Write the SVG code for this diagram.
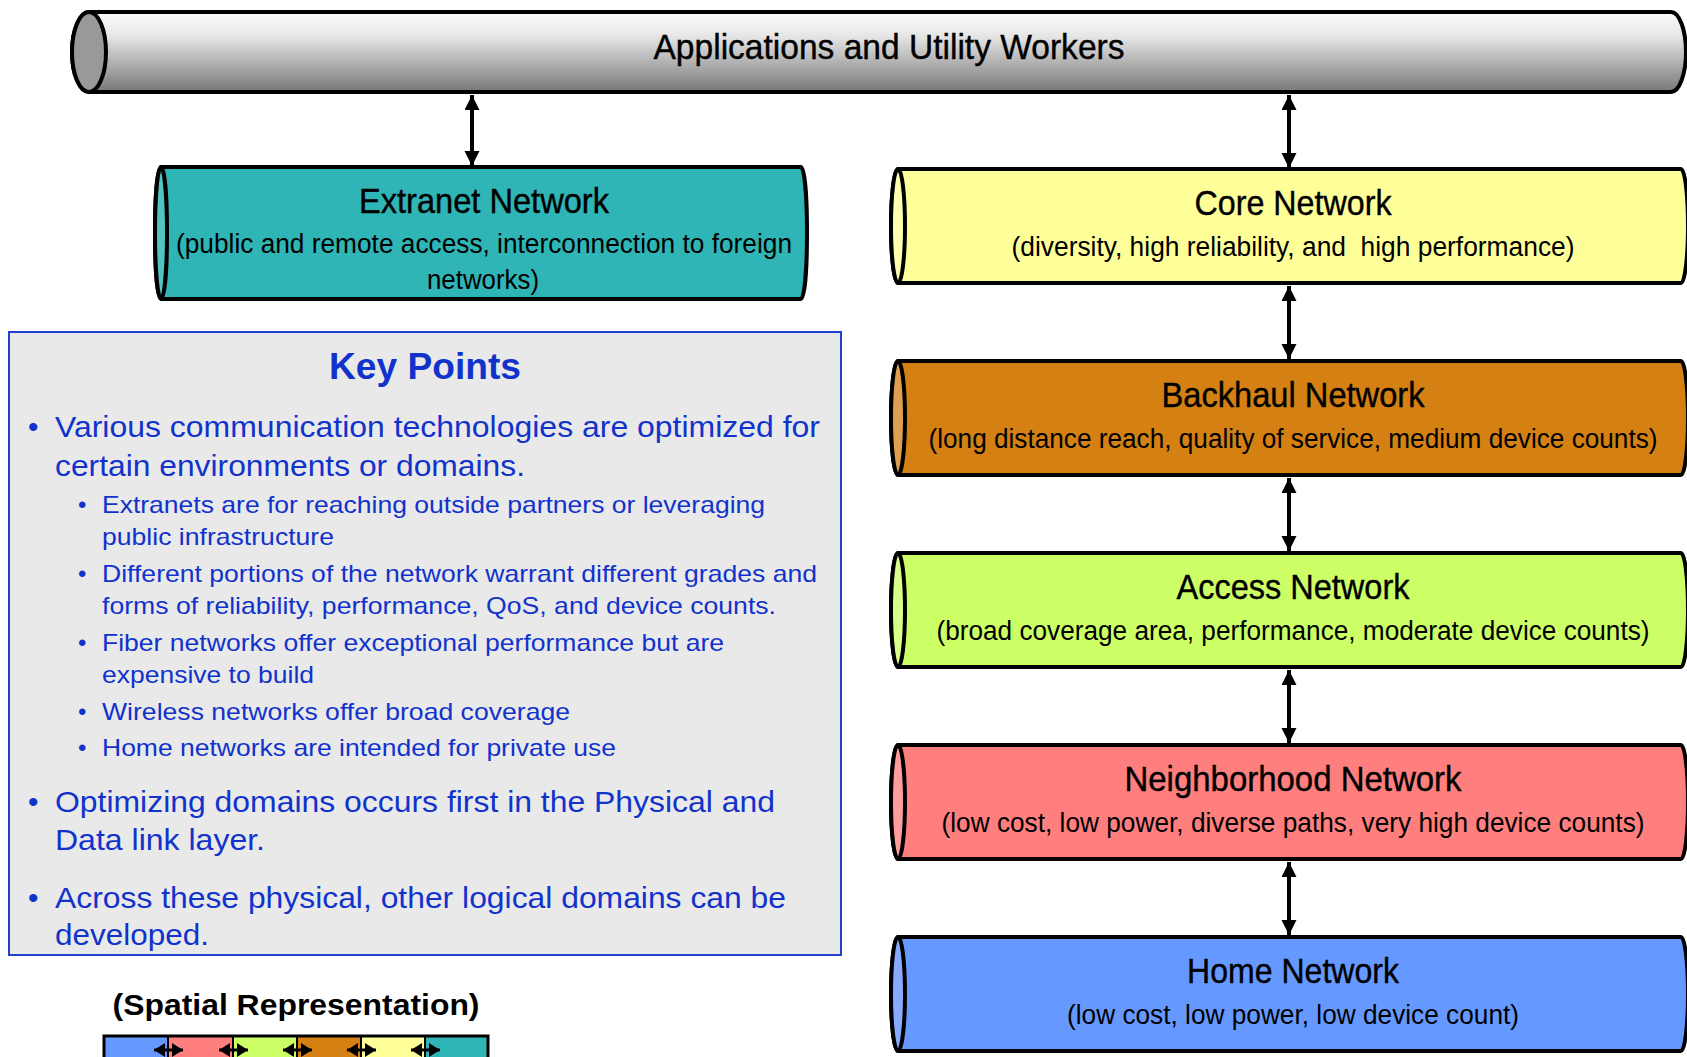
<svg xmlns="http://www.w3.org/2000/svg" width="1687" height="1057" viewBox="0 0 1687 1057">
<style>
.cyl{stroke:#000;stroke-width:4;stroke-linejoin:round}
.t{font-family:"Liberation Sans Narrow","Liberation Sans",Arial,sans-serif;fill:#000;text-anchor:middle}
.tt{font-size:35px;stroke:#000;stroke-width:0.4}
.ts{font-size:27px}
.kp{font-family:"Liberation Sans Narrow","Liberation Sans",Arial,sans-serif;fill:#1133cc}
.kh{font-family:"Liberation Sans",Arial,sans-serif;font-weight:bold;fill:#1133cc;font-size:36px;text-anchor:middle}
.k1{font-size:30px}
.k2{font-size:24px}
.conn{stroke:#000;stroke-width:4;fill:none}
.seg{stroke:#000;stroke-width:2}
</style>
<defs>
<linearGradient id="gTop" x1="0" y1="0" x2="0" y2="1">
<stop offset="0" stop-color="#fdfdfd"/>
<stop offset="0.3" stop-color="#e6e6e6"/>
<stop offset="1" stop-color="#777"/>
</linearGradient>
<marker id="ah" markerUnits="userSpaceOnUse" markerWidth="16" markerHeight="16" refX="15" refY="7.5" orient="auto-start-reverse" viewBox="0 0 16 16">
<path d="M0,0 L15,7.5 L0,15 Z" fill="#000"/>
</marker>
<marker id="sh" markerUnits="userSpaceOnUse" markerWidth="12" markerHeight="16" refX="11" refY="7" orient="auto-start-reverse" viewBox="0 0 12 16">
<path d="M0,0 L11,7 L0,14 Z" fill="#000"/>
</marker>
</defs>

<g id="connectors">
<line class="conn" x1="472" y1="95" x2="472" y2="166" marker-start="url(#ah)" marker-end="url(#ah)"/>
<line class="conn" x1="1289" y1="95" x2="1289" y2="168" marker-start="url(#ah)" marker-end="url(#ah)"/>
<line class="conn" x1="1289" y1="286" x2="1289" y2="359" marker-start="url(#ah)" marker-end="url(#ah)"/>
<line class="conn" x1="1289" y1="478" x2="1289" y2="551" marker-start="url(#ah)" marker-end="url(#ah)"/>
<line class="conn" x1="1289" y1="670" x2="1289" y2="743" marker-start="url(#ah)" marker-end="url(#ah)"/>
<line class="conn" x1="1289" y1="862" x2="1289" y2="935" marker-start="url(#ah)" marker-end="url(#ah)"/>
</g>

<g id="applications">
<path class="cyl" fill="url(#gTop)" d="M89,12 H1671 A15,40 0 0 1 1671,92 H89 A17,40 0 0 1 89,12 Z"/>
<ellipse class="cyl" cx="89" cy="52" rx="17" ry="40" fill="#999"/>
<text class="t tt" x="889" y="59" textLength="471" lengthAdjust="spacingAndGlyphs">Applications and Utility Workers</text>
</g>

<g id="extranet">
<path class="cyl" fill="#2fb5b5" d="M161,167 H801 A6,66 0 0 1 801,299 H161 A6,66 0 0 1 161,167 Z"/>
<ellipse class="cyl" cx="161" cy="233" rx="6" ry="66" fill="#52c4c4"/>
<text class="t tt" x="484" y="213" textLength="250" lengthAdjust="spacingAndGlyphs">Extranet Network</text>
<text class="t ts" x="484" y="253" textLength="616" lengthAdjust="spacingAndGlyphs">(public and remote access, interconnection to foreign</text>
<text class="t ts" x="483" y="289" textLength="112" lengthAdjust="spacingAndGlyphs">networks)</text>
</g>

<g id="core">
<path class="cyl" fill="#ffff99" d="M898,169 H1681 A7,57 0 0 1 1681,283 H898 A7,57 0 0 1 898,169 Z"/>
<ellipse class="cyl" cx="898" cy="226" rx="7" ry="57" fill="#ffffb0"/>
<text class="t tt" x="1293" y="215" textLength="197" lengthAdjust="spacingAndGlyphs">Core Network</text>
<text class="t ts" x="1293" y="256" textLength="563" lengthAdjust="spacingAndGlyphs" xml:space="preserve">(diversity, high reliability, and  high performance)</text>
</g>

<g id="backhaul">
<path class="cyl" fill="#d48012" d="M898,361 H1681 A7,57 0 0 1 1681,475 H898 A7,57 0 0 1 898,361 Z"/>
<ellipse class="cyl" cx="898" cy="418" rx="7" ry="57" fill="#dea050"/>
<text class="t tt" x="1293" y="407" textLength="263" lengthAdjust="spacingAndGlyphs">Backhaul Network</text>
<text class="t ts" x="1293" y="448" textLength="729" lengthAdjust="spacingAndGlyphs">(long distance reach, quality of service, medium device counts)</text>
</g>

<g id="access">
<path class="cyl" fill="#ccff66" d="M898,553 H1681 A7,57 0 0 1 1681,667 H898 A7,57 0 0 1 898,553 Z"/>
<ellipse class="cyl" cx="898" cy="610" rx="7" ry="57" fill="#d8ff88"/>
<text class="t tt" x="1293" y="599" textLength="233" lengthAdjust="spacingAndGlyphs">Access Network</text>
<text class="t ts" x="1293" y="640" textLength="713" lengthAdjust="spacingAndGlyphs">(broad coverage area, performance, moderate device counts)</text>
</g>

<g id="neighborhood">
<path class="cyl" fill="#ff7f7f" d="M898,745 H1681 A7,57 0 0 1 1681,859 H898 A7,57 0 0 1 898,745 Z"/>
<ellipse class="cyl" cx="898" cy="802" rx="7" ry="57" fill="#ff9c9c"/>
<text class="t tt" x="1293" y="791" textLength="337" lengthAdjust="spacingAndGlyphs">Neighborhood Network</text>
<text class="t ts" x="1293" y="832" textLength="703" lengthAdjust="spacingAndGlyphs">(low cost, low power, diverse paths, very high device counts)</text>
</g>

<g id="home">
<path class="cyl" fill="#6699ff" d="M898,937 H1681 A7,57 0 0 1 1681,1051 H898 A7,57 0 0 1 898,937 Z"/>
<ellipse class="cyl" cx="898" cy="994" rx="7" ry="57" fill="#88aaff"/>
<text class="t tt" x="1293" y="983" textLength="212" lengthAdjust="spacingAndGlyphs">Home Network</text>
<text class="t ts" x="1293" y="1024" textLength="452" lengthAdjust="spacingAndGlyphs">(low cost, low power, low device count)</text>
</g>

<g id="key-points">
<rect x="9" y="332" width="832" height="623" fill="#e9e9e9" stroke="#2040d0" stroke-width="2"/>
<text class="kh" x="425" y="379" textLength="192" lengthAdjust="spacingAndGlyphs">Key Points</text>
<text class="kp k1" x="28" y="437">•</text>
<text class="kp k1" x="55" y="437" textLength="765" lengthAdjust="spacingAndGlyphs">Various communication technologies are optimized for</text>
<text class="kp k1" x="55" y="476" textLength="470" lengthAdjust="spacingAndGlyphs">certain environments or domains.</text>
<text class="kp k2" x="78" y="513">•</text>
<text class="kp k2" x="102" y="513" textLength="663" lengthAdjust="spacingAndGlyphs">Extranets are for reaching outside partners or leveraging</text>
<text class="kp k2" x="102" y="545" textLength="232" lengthAdjust="spacingAndGlyphs">public infrastructure</text>
<text class="kp k2" x="78" y="582">•</text>
<text class="kp k2" x="102" y="582" textLength="715" lengthAdjust="spacingAndGlyphs">Different portions of the network warrant different grades and</text>
<text class="kp k2" x="102" y="614" textLength="674" lengthAdjust="spacingAndGlyphs">forms of reliability, performance, QoS, and device counts.</text>
<text class="kp k2" x="78" y="651">•</text>
<text class="kp k2" x="102" y="651" textLength="622" lengthAdjust="spacingAndGlyphs">Fiber networks offer exceptional performance but are</text>
<text class="kp k2" x="102" y="683" textLength="212" lengthAdjust="spacingAndGlyphs">expensive to build</text>
<text class="kp k2" x="78" y="720">•</text>
<text class="kp k2" x="102" y="720" textLength="468" lengthAdjust="spacingAndGlyphs">Wireless networks offer broad coverage</text>
<text class="kp k2" x="78" y="756">•</text>
<text class="kp k2" x="102" y="756" textLength="514" lengthAdjust="spacingAndGlyphs">Home networks are intended for private use</text>
<text class="kp k1" x="28" y="812">•</text>
<text class="kp k1" x="55" y="812" textLength="720" lengthAdjust="spacingAndGlyphs">Optimizing domains occurs first in the Physical and</text>
<text class="kp k1" x="55" y="850" textLength="210" lengthAdjust="spacingAndGlyphs">Data link layer.</text>
<text class="kp k1" x="28" y="908">•</text>
<text class="kp k1" x="55" y="908" textLength="731" lengthAdjust="spacingAndGlyphs">Across these physical, other logical domains can be</text>
<text class="kp k1" x="55" y="945" textLength="154" lengthAdjust="spacingAndGlyphs">developed.</text>
</g>

<g id="spatial">
<text x="296" y="1015" font-family="Liberation Sans, Arial, sans-serif" font-weight="bold" font-size="30" text-anchor="middle" textLength="367" lengthAdjust="spacingAndGlyphs">(Spatial Representation)</text>
<rect class="seg" x="104" y="1036" width="64" height="40" fill="#6699ff"/>
<rect class="seg" x="168" y="1036" width="65" height="40" fill="#ff7f7f"/>
<rect class="seg" x="233" y="1036" width="64" height="40" fill="#ccff66"/>
<rect class="seg" x="297" y="1036" width="64" height="40" fill="#d48012"/>
<rect class="seg" x="361" y="1036" width="64" height="40" fill="#ffff99"/>
<rect class="seg" x="425" y="1036" width="63" height="40" fill="#2fb5b5"/>
<rect x="104" y="1036" width="384" height="40" fill="none" stroke="#000" stroke-width="3"/>
<g stroke="#000" stroke-width="3">
<line x1="154" y1="1050" x2="183" y2="1050" marker-start="url(#sh)" marker-end="url(#sh)"/>
<line x1="219" y1="1050" x2="248" y2="1050" marker-start="url(#sh)" marker-end="url(#sh)"/>
<line x1="283" y1="1050" x2="312" y2="1050" marker-start="url(#sh)" marker-end="url(#sh)"/>
<line x1="347" y1="1050" x2="376" y2="1050" marker-start="url(#sh)" marker-end="url(#sh)"/>
<line x1="411" y1="1050" x2="440" y2="1050" marker-start="url(#sh)" marker-end="url(#sh)"/>
</g>
</g>
</svg>
